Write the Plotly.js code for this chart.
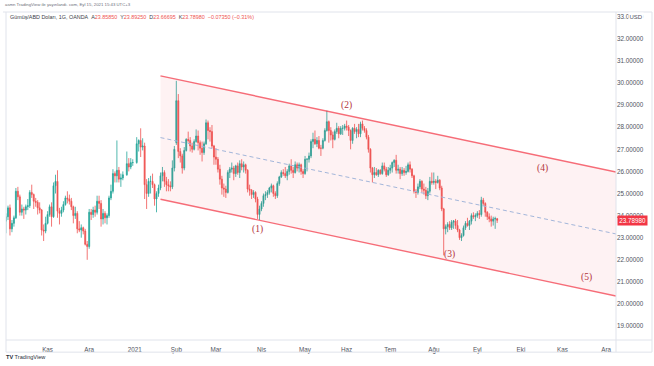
<!DOCTYPE html>
<html>
<head>
<meta charset="utf-8">
<script src="https://cdn.plot.ly/plotly-3.0.1.min.js"></script>
<style>html,body{margin:0;padding:0;background:#fff;}#chart{width:654px;height:366px;}</style>
</head>
<body>
<div id="chart"></div>
<script>
// ---- Daily OHLC, XAG/USD (OANDA) ----
const dates = [
 // Oct 2020
 "2020-10-01","2020-10-02","2020-10-05","2020-10-06","2020-10-07","2020-10-08","2020-10-09","2020-10-12","2020-10-13","2020-10-14","2020-10-15","2020-10-16","2020-10-19","2020-10-20","2020-10-21","2020-10-22","2020-10-23","2020-10-26","2020-10-27","2020-10-28","2020-10-29","2020-10-30",
 // Nov 2020
 "2020-11-02","2020-11-03","2020-11-04","2020-11-05","2020-11-06","2020-11-09","2020-11-10","2020-11-11","2020-11-12","2020-11-13","2020-11-16","2020-11-17","2020-11-18","2020-11-19","2020-11-20","2020-11-23","2020-11-24","2020-11-25","2020-11-26","2020-11-27","2020-11-30",
 // Dec 2020
 "2020-12-01","2020-12-02","2020-12-03","2020-12-04","2020-12-07","2020-12-08","2020-12-09","2020-12-10","2020-12-11","2020-12-14","2020-12-15","2020-12-16","2020-12-17","2020-12-18","2020-12-21","2020-12-22","2020-12-23","2020-12-24","2020-12-28","2020-12-29","2020-12-30","2020-12-31",
 // Jan 2021
 "2021-01-04","2021-01-05","2021-01-06","2021-01-07","2021-01-08","2021-01-11","2021-01-12","2021-01-13","2021-01-14","2021-01-15","2021-01-18","2021-01-19","2021-01-20","2021-01-21","2021-01-22","2021-01-25","2021-01-26","2021-01-27","2021-01-28","2021-01-29",
 // Feb 2021
 "2021-02-01","2021-02-02","2021-02-03","2021-02-04","2021-02-05","2021-02-08","2021-02-09","2021-02-10","2021-02-11","2021-02-12","2021-02-15","2021-02-16","2021-02-17","2021-02-18","2021-02-19","2021-02-22","2021-02-23","2021-02-24","2021-02-25","2021-02-26",
 // Mar 2021
 "2021-03-01","2021-03-02","2021-03-03","2021-03-04","2021-03-05","2021-03-08","2021-03-09","2021-03-10","2021-03-11","2021-03-12","2021-03-15","2021-03-16","2021-03-17","2021-03-18","2021-03-19","2021-03-22","2021-03-23","2021-03-24","2021-03-25","2021-03-26","2021-03-29","2021-03-30","2021-03-31",
 // Apr 2021
 "2021-04-01","2021-04-02","2021-04-05","2021-04-06","2021-04-07","2021-04-08","2021-04-09","2021-04-12","2021-04-13","2021-04-14","2021-04-15","2021-04-16","2021-04-19","2021-04-20","2021-04-21","2021-04-22","2021-04-23","2021-04-26","2021-04-27","2021-04-28","2021-04-29","2021-04-30",
 // May 2021
 "2021-05-03","2021-05-04","2021-05-05","2021-05-06","2021-05-07","2021-05-10","2021-05-11","2021-05-12","2021-05-13","2021-05-14","2021-05-17","2021-05-18","2021-05-19","2021-05-20","2021-05-21","2021-05-24","2021-05-25","2021-05-26","2021-05-27","2021-05-28","2021-05-31",
 // Jun 2021
 "2021-06-01","2021-06-02","2021-06-03","2021-06-04","2021-06-07","2021-06-08","2021-06-09","2021-06-10","2021-06-11","2021-06-14","2021-06-15","2021-06-16","2021-06-17","2021-06-18","2021-06-21","2021-06-22","2021-06-23","2021-06-24","2021-06-25","2021-06-28","2021-06-29","2021-06-30",
 // Jul 2021
 "2021-07-01","2021-07-02","2021-07-05","2021-07-06","2021-07-07","2021-07-08","2021-07-09","2021-07-12","2021-07-13","2021-07-14","2021-07-15","2021-07-16","2021-07-19","2021-07-20","2021-07-21","2021-07-22","2021-07-23","2021-07-26","2021-07-27","2021-07-28","2021-07-29","2021-07-30",
 // Aug 2021
 "2021-08-02","2021-08-03","2021-08-04","2021-08-05","2021-08-06","2021-08-09","2021-08-10","2021-08-11","2021-08-12","2021-08-13","2021-08-16","2021-08-17","2021-08-18","2021-08-19","2021-08-20","2021-08-23","2021-08-24","2021-08-25","2021-08-26","2021-08-27","2021-08-30","2021-08-31",
 // Sep 2021
 "2021-09-01","2021-09-02","2021-09-03","2021-09-06","2021-09-07","2021-09-08","2021-09-09","2021-09-10","2021-09-13","2021-09-14","2021-09-15"
];
const opens = [
 23.40,23.75,23.95,24.35,23.40,23.65,23.90,25.10,24.85,24.15,24.30,24.25,24.40,24.45,25.05,24.95,24.65,24.60,24.35,24.25,23.35,23.30,
 23.65,24.05,24.40,23.95,25.35,25.55,24.20,24.10,24.25,24.50,24.80,24.75,24.65,24.40,24.00,24.10,23.40,23.35,23.45,23.30,22.70,
 22.60,24.15,24.05,24.25,24.15,24.65,24.55,23.85,24.10,23.90,24.00,24.80,25.10,25.90,25.80,26.05,25.65,25.70,25.85,26.35,26.20,26.40,
 26.40,27.25,27.40,27.10,27.15,25.40,25.00,25.55,25.55,25.40,24.75,25.00,25.25,25.80,25.95,25.55,25.40,25.35,25.30,26.15,
 27.30,29.20,26.90,26.70,26.15,26.95,27.45,27.40,27.15,27.00,27.35,27.60,27.30,27.05,26.85,27.25,28.20,27.85,27.80,27.15,
 26.65,26.55,26.10,25.65,25.25,25.20,25.05,25.95,26.10,26.15,25.90,26.25,25.95,26.35,26.20,26.30,26.05,25.20,25.15,24.95,25.05,24.75,24.05,
 24.30,24.55,24.90,24.95,25.05,25.25,25.35,25.00,24.90,25.45,25.75,25.95,25.90,25.80,26.00,26.25,26.05,25.95,26.30,26.15,26.30,26.00,
 25.90,26.55,26.55,26.70,27.35,27.45,27.25,27.40,27.05,27.05,27.40,27.85,28.25,27.85,27.65,27.45,27.80,27.95,27.70,27.95,27.95,
 28.05,28.00,27.85,27.40,27.95,27.80,27.90,27.70,28.15,27.95,27.85,27.55,27.00,26.15,25.85,25.95,25.85,26.05,25.90,26.25,26.10,25.85,
 26.05,26.15,26.40,26.50,26.05,26.10,25.90,26.05,25.95,26.00,26.30,26.10,25.80,25.10,25.05,25.30,25.55,25.20,25.15,24.90,25.10,25.55,
 25.50,25.55,25.50,25.60,25.25,24.30,23.40,23.50,23.60,23.45,23.70,23.75,23.55,23.35,23.00,23.10,23.45,23.65,23.55,23.75,24.00,23.95,
 24.00,24.10,24.05,24.70,24.55,24.15,23.95,23.85,23.75,23.85,23.8585
];
const highs = [
 23.95,24.10,24.45,24.50,23.80,24.00,25.25,25.30,24.95,24.50,24.40,24.50,24.75,25.15,25.40,25.00,24.80,24.70,24.60,24.30,23.60,23.95,
 24.20,24.50,24.60,25.50,25.85,26.05,24.35,24.40,24.65,24.90,25.10,24.95,24.80,24.45,24.40,24.20,23.75,23.60,23.50,23.40,22.85,
 24.30,24.30,24.40,24.45,24.90,24.90,24.70,24.30,24.20,24.10,24.90,25.40,26.10,26.00,27.40,26.20,25.90,26.00,26.90,26.60,26.60,26.55,
 27.55,27.45,27.95,27.50,27.30,25.65,25.70,25.80,25.90,25.45,25.10,25.40,25.95,26.20,26.05,25.75,25.65,25.55,26.50,27.15,
 30.10,29.50,27.05,26.80,27.10,27.50,27.80,27.55,27.30,27.45,27.90,27.85,27.40,27.35,27.35,28.35,28.30,28.00,28.10,27.20,
 27.05,26.65,26.30,25.80,25.45,25.35,26.05,26.20,26.40,26.25,26.30,26.40,26.50,26.55,26.45,26.35,26.10,25.40,25.20,25.15,25.10,24.85,24.45,
 24.65,25.00,25.10,25.15,25.30,25.45,25.40,25.10,25.55,25.80,26.05,26.10,26.20,26.10,26.35,26.55,26.20,26.45,26.40,26.40,26.35,26.10,
 26.70,26.60,26.85,27.45,27.75,27.85,27.55,27.60,27.20,27.50,27.95,28.75,28.30,28.00,27.80,27.90,28.20,28.05,28.05,28.10,28.15,
 28.30,28.10,27.90,28.00,28.15,28.00,28.15,28.25,28.30,28.05,27.95,27.65,27.05,26.20,26.20,26.15,26.10,26.10,26.40,26.40,26.20,26.20,
 26.30,26.45,26.55,26.75,26.30,26.20,26.20,26.15,26.25,26.40,26.45,26.15,25.85,25.20,25.45,25.65,25.60,25.45,25.30,25.25,25.75,25.95,
 25.95,25.65,25.80,25.65,25.35,24.35,23.60,23.70,23.75,23.80,23.80,23.85,23.80,23.40,23.20,23.55,23.75,23.90,23.80,24.10,24.15,24.10,
 24.20,24.25,24.85,24.80,24.60,24.20,24.10,24.00,23.95,23.95,23.8925
];
const lows = [
 23.25,23.20,23.80,23.10,23.25,23.50,23.85,24.70,24.00,24.00,23.85,24.05,24.25,24.35,24.80,24.30,24.40,24.05,24.10,23.10,22.85,23.20,
 23.60,23.95,23.50,23.90,25.00,23.90,23.60,23.95,24.15,24.45,24.55,24.50,24.25,23.65,23.85,23.20,23.25,23.00,23.15,22.65,22.00,
 22.50,23.80,23.90,23.95,24.05,24.30,23.50,23.60,23.65,23.60,23.90,24.70,25.00,25.50,25.50,25.50,25.30,25.60,25.80,26.00,26.10,26.25,
 26.35,26.90,26.65,26.95,24.75,24.30,24.85,25.00,25.25,24.45,24.15,24.85,25.15,25.55,25.30,25.10,25.10,25.10,25.20,26.00,
 27.20,26.60,26.40,25.90,26.05,26.90,27.30,26.90,26.85,26.95,27.30,26.95,26.75,26.45,26.75,27.20,27.45,27.35,27.05,26.30,
 26.30,25.95,25.40,24.95,24.85,24.80,25.00,25.70,25.95,25.60,25.75,25.85,25.70,26.05,25.95,25.90,25.05,24.90,24.75,24.80,24.60,23.85,23.80,
 24.20,24.40,24.70,24.80,24.95,25.05,24.85,24.75,24.80,25.35,25.70,25.80,25.70,25.60,25.85,25.90,25.70,25.90,26.00,25.95,25.85,25.70,
 25.85,26.00,26.40,26.60,27.05,27.20,27.10,27.00,26.70,27.00,27.35,27.80,27.30,27.40,27.05,27.40,27.70,27.50,27.65,27.65,27.85,
 27.85,27.60,27.00,27.25,27.70,27.50,27.55,27.55,27.85,27.75,27.45,26.85,25.95,25.50,25.70,25.80,25.75,25.85,25.85,26.00,25.75,25.80,
 25.90,25.95,26.20,25.90,25.90,25.65,25.80,25.80,25.85,25.95,25.95,25.70,25.00,24.80,24.95,25.20,25.05,24.95,24.75,24.70,25.00,25.40,
 25.40,25.20,25.45,25.15,24.20,22.20,23.15,23.25,23.35,23.35,23.40,23.40,23.25,22.90,22.85,23.05,23.35,23.50,23.35,23.60,23.85,23.75,
 23.90,23.85,23.95,24.45,23.95,23.80,23.70,23.50,23.55,23.40,23.66695
];
const closes = [
 23.75,23.95,24.35,23.40,23.65,23.90,25.10,24.85,24.15,24.30,24.25,24.40,24.45,25.05,24.95,24.65,24.60,24.35,24.25,23.35,23.30,23.65,
 24.05,24.40,23.95,25.35,25.55,24.20,24.10,24.25,24.50,24.80,24.75,24.65,24.40,24.00,24.10,23.40,23.35,23.45,23.30,22.70,22.60,
 24.15,24.05,24.25,24.15,24.65,24.55,23.85,24.10,23.90,24.00,24.80,25.10,25.90,25.80,26.05,25.65,25.70,25.85,26.35,26.20,26.40,26.40,
 27.25,27.40,27.10,27.15,25.40,25.00,25.55,25.55,25.40,24.75,25.00,25.25,25.80,25.95,25.55,25.40,25.35,25.30,26.15,27.00,
 29.20,26.90,26.70,26.15,26.95,27.45,27.40,27.15,27.00,27.35,27.60,27.30,27.05,26.85,27.25,28.20,27.85,27.80,27.15,26.65,
 26.55,26.10,25.65,25.25,25.20,25.05,25.95,26.10,26.15,25.90,26.25,25.95,26.35,26.20,26.30,26.05,25.20,25.15,24.95,25.05,24.75,24.05,24.30,
 24.55,24.90,24.95,25.05,25.25,25.35,25.00,24.90,25.45,25.75,25.95,25.90,25.80,26.00,26.25,26.05,25.95,26.30,26.15,26.30,26.00,25.90,
 26.55,26.55,26.70,27.35,27.45,27.25,27.40,27.05,27.05,27.40,27.85,28.25,27.85,27.65,27.45,27.80,27.95,27.70,27.95,27.95,28.05,
 28.00,27.85,27.40,27.95,27.80,27.90,27.70,28.15,27.95,27.85,27.55,27.00,26.15,25.85,25.95,25.85,26.05,25.90,26.25,26.10,25.85,26.05,
 26.15,26.40,26.50,26.05,26.10,25.90,26.05,25.95,26.00,26.30,26.10,25.80,25.10,25.05,25.30,25.55,25.20,25.15,24.90,25.10,25.55,25.50,
 25.55,25.50,25.60,25.25,24.30,23.40,23.50,23.60,23.45,23.70,23.75,23.55,23.35,23.00,23.10,23.45,23.65,23.55,23.75,24.00,23.95,24.00,
 24.10,24.05,24.70,24.55,24.15,23.95,23.85,23.75,23.85,23.8633,23.7898
];

// ---- Regression channel ----
const channelDates = ["2021-01-20", "2021-12-08"];
const channelUpper = [30.32, 25.97];
const channelMiddle = [27.53, 23.17];
const channelLower = [24.74, 20.36];

// ---- Channel labels ----
const labelTexts = ["(1)", "(2)", "(3)", "(4)", "(5)"];
const labelDates = ["2021-03-30", "2021-06-01", "2021-08-12", "2021-10-18", "2021-11-17"];
const labelPrices = [23.39, 28.96, 22.26, 26.15, 21.22];

// ---- Axis ticks ----
const monthTickDates = ["2020-11-02","2020-12-01","2021-01-01","2021-02-01","2021-03-01","2021-04-01","2021-05-03","2021-06-01","2021-07-01","2021-08-02","2021-09-01","2021-10-01","2021-11-01","2021-12-01"];
const monthTickLabels = ["Kas","Ara","2021","Şub","Mar","Nis","May","Haz","Tem","Ağu","Eyl","Eki","Kas","Ara"];
const priceTicks = [19,20,21,22,23,24,25,26,27,28,29,30,31,32,33];
const lastPrice = 23.7898;

const UP = "#26a69a", DOWN = "#ef5350", CH = "rgba(242,54,69,0.72)";
const grayTxt = "#50535e";

const traces = [
  {type:"scatter", mode:"lines", x:channelDates, y:channelLower, line:{color:CH, width:1.4}, hoverinfo:"skip"},
  {type:"scatter", mode:"lines", x:channelDates, y:channelUpper, line:{color:CH, width:1.4}, fill:"tonexty", fillcolor:"rgba(242,54,69,0.065)", hoverinfo:"skip"},
  {type:"scatter", mode:"lines", x:channelDates, y:channelMiddle, line:{color:"#a3b6da", width:1, dash:"4px,3px"}, hoverinfo:"skip"},
  {type:"candlestick", x:dates, open:opens, high:highs, low:lows, close:closes,
   increasing:{line:{color:UP, width:0.8}, fillcolor:UP},
   decreasing:{line:{color:DOWN, width:0.8}, fillcolor:DOWN},
   whiskerwidth:0, hoverinfo:"skip"}
];

const annotations = labelTexts.map((t,i)=>({
  x:labelDates[i], y:labelPrices[i], xref:"x", yref:"y", text:t, showarrow:false,
  font:{family:"Liberation Serif, serif", size:9.5, color:"#b3343c"}
}));

annotations.push(
  {xref:"paper", yref:"paper", x:-0.005, y:1.023, xanchor:"left", yanchor:"middle", showarrow:false,
   text:"asmn TradingView ile yayınlandı. com, Eyl 15, 2021 15:43 UTC+3",
   font:{family:"Liberation Sans, Arial", size:4.3, color:"#6a6d78"}},
  {xref:"paper", yref:"paper", x:0.003, y:0.984, xanchor:"left", yanchor:"middle", showarrow:false,
   text:"Gümüş/ABD Doları, 1G, OANDA&nbsp;&nbsp;A<span style='color:#ef5350'>23.85850</span>&nbsp;&nbsp;Y<span style='color:#ef5350'>23.89250</span>&nbsp;&nbsp;D<span style='color:#ef5350'>23.66695</span>&nbsp;&nbsp;K<span style='color:#ef5350'>23.78980</span>&nbsp;&nbsp;<span style='color:#ef5350'>−0.07350 (−0.31%)</span>",
   font:{family:"Liberation Sans, Arial", size:5.4, color:"#3b3e48"}},
  {xref:"paper", yref:"y", x:1.001, y:lastPrice, xanchor:"left", yanchor:"middle", showarrow:false,
   text:"23.78980", bgcolor:"#f23645", borderpad:1.2,
   font:{family:"Liberation Sans, Arial", size:6.3, color:"#ffffff"}},
  {xref:"paper", yref:"y", x:1.019, y:33, xanchor:"left", yanchor:"middle", showarrow:false,
   text:"USD", bgcolor:"#ffffff", borderpad:0.5,
   font:{family:"Liberation Sans, Arial", size:6, color:grayTxt}},
  {xref:"paper", yref:"paper", x:-0.003, y:-0.052, xanchor:"left", yanchor:"middle", showarrow:false,
   text:"<b>TV</b> TradingView",
   font:{family:"Liberation Sans, Arial", size:5.6, color:"#2a2e39"}}
);

const lineColor = "#e0e3eb";
const shapes = [
  {type:"line", xref:"paper", yref:"paper", x0:-0.005, x1:1.059, y0:1, y1:1, line:{color:lineColor, width:1}},
  {type:"line", xref:"paper", yref:"paper", x0:0, x1:0, y0:-0.037, y1:1, line:{color:lineColor, width:1}},
  {type:"line", xref:"paper", yref:"paper", x0:1.059, x1:1.059, y0:-0.037, y1:1, line:{color:lineColor, width:1}},
  {type:"line", xref:"paper", yref:"paper", x0:1, x1:1, y0:-0.037, y1:1, line:{color:lineColor, width:1}},
  {type:"line", xref:"paper", yref:"paper", x0:0, x1:1.059, y0:0, y1:0, line:{color:lineColor, width:1}},
  {type:"line", xref:"paper", yref:"paper", x0:0, x1:1.059, y0:-0.037, y1:-0.037, line:{color:lineColor, width:1}}
];

const layout = {
  width:654, height:366,
  margin:{l:6, r:38, t:12, b:26, pad:0},
  paper_bgcolor:"#ffffff", plot_bgcolor:"#ffffff",
  showlegend:false,
  hovermode:false,
  xaxis:{
    type:"date",
    range:["2020-10-02","2021-12-08"],
    rangebreaks:[{bounds:["sat","mon"]}],
    rangeslider:{visible:false},
    tickmode:"array", tickvals:monthTickDates, ticktext:monthTickLabels,
    showgrid:false, zeroline:false, showline:false,
    ticks:"outside", ticklen:3, tickcolor:"rgba(0,0,0,0)",
    tickfont:{family:"Liberation Sans, Arial", size:6.3, color:grayTxt},
    fixedrange:true
  },
  yaxis:{
    side:"right",
    range:[18.371, 33.213],
    tickmode:"array", tickvals:priceTicks, tickformat:".5f",
    showgrid:false, zeroline:false, showline:false, ticks:"",
    tickfont:{family:"Liberation Sans, Arial", size:6.3, color:grayTxt},
    fixedrange:true
  },
  annotations:annotations,
  shapes:shapes
};

Plotly.newPlot("chart", traces, layout, {displayModeBar:false, staticPlot:true});
</script>
</body>
</html>
